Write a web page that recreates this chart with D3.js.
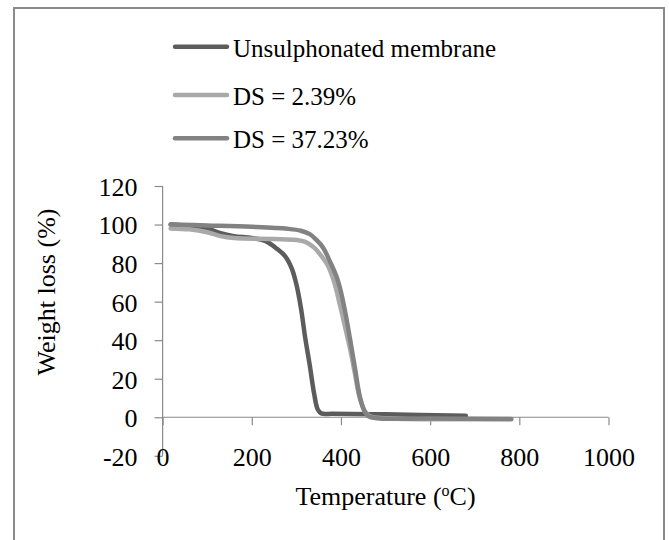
<!DOCTYPE html>
<html><head><meta charset="utf-8">
<script src="https://cdn.jsdelivr.net/npm/d3@7"></script>
<style>body{margin:0;background:#fff}svg{display:block}text{font-family:"Liberation Serif","Times New Roman",serif;fill:#000}</style>
</head><body><svg id="c" width="669" height="540"></svg>
<script>
const seriesNames = ["Unsulphonated membrane", "DS = 2.39%", "DS = 37.23%"];
const unsulphT = [18, 60, 100, 130, 160, 200, 230, 256, 275, 290, 300, 310, 320, 330, 340, 348, 356, 380, 500, 680];
const unsulphW = [100, 99.3, 98, 95.5, 94, 93, 91.5, 87.5, 83.5, 77, 69, 57, 41, 27, 12, 4, 2, 1.8, 1.5, 0.8];
const ds239T = [18, 60, 100, 130, 160, 250, 300, 320, 340, 355, 370, 385, 398, 410, 420, 431, 442, 454, 465, 500, 782];
const ds239W = [98, 97.5, 96, 94, 93, 92.5, 92, 91, 88, 84, 79, 70, 58, 46, 36, 23, 10, 3, 0.5, -0.5, -1];
const ds3723T = [18, 100, 200, 280, 310, 330, 345, 360, 375, 390, 400, 410, 420, 431, 442, 452, 462, 480, 600, 782];
const ds3723W = [100, 99.5, 98.8, 97.8, 96.8, 95, 92, 88, 81, 73, 65, 54, 41, 26, 11, 3.5, 0.5, -0.5, -0.7, -0.9];
const xTicks = [0, 200, 400, 600, 800, 1000];
const yTicks = [-20, 0, 20, 40, 60, 80, 100, 120];
const colors = ["#5c5c5c", "#a9a9a9", "#828282"];

const svg = d3.select("#c");
svg.append("rect").attr("x", 14).attr("y", 8).attr("width", 650).attr("height", 545)
  .attr("fill", "#fff").attr("stroke", "#8a8a8a").attr("stroke-width", 2);

const x = d3.scaleLinear().domain([0, 1000]).range([162.6, 608.5]);
const y = d3.scaleLinear().domain([-20, 120]).range([455.8, 186]);

const ya = svg.append("g").attr("transform", `translate(${x(0)},0)`)
  .call(d3.axisLeft(y).tickValues(yTicks).tickSize(8).tickPadding(17).tickFormat(d => String(d)));
const xa = svg.append("g").attr("transform", `translate(0,${y(0)})`)
  .call(d3.axisBottom(x).tickValues(xTicks).tickSize(8).tickPadding(22).tickFormat(d => String(d)));
[ya, xa].forEach(g => {
  g.select(".domain").attr("stroke", "#8a8a8a").attr("stroke-width", 1.2);
  g.selectAll(".tick line").attr("stroke", "#8a8a8a").attr("stroke-width", 1.2);
  g.selectAll(".tick text").attr("font-size", 26).attr("font-family", "Liberation Serif").attr("fill", "#000");
});
ya.select(".domain").attr("d", `M0,${y(120)}V${y(-20)}`);
ya.selectAll(".tick text").attr("dy", "0.36em");
xa.select(".domain").attr("d", `M${x(0)},0H${x(1000)}`);
xa.selectAll(".tick text").attr("dy", "0.71em");

const data = [
  unsulphT.map((t, i) => [t, unsulphW[i]]),
  ds239T.map((t, i) => [t, ds239W[i]]),
  ds3723T.map((t, i) => [t, ds3723W[i]])
];
const line = d3.line().x(d => x(d[0])).y(d => y(d[1])).curve(d3.curveCatmullRom.alpha(0.5));
data.forEach((d, i) => {
  svg.append("path").attr("d", line(d)).attr("fill", "none")
    .attr("stroke", colors[i]).attr("stroke-width", 4.5)
    .attr("stroke-linecap", "round").attr("stroke-linejoin", "round");
});

const legY = [46.7, 95, 138.3];
seriesNames.forEach((n, i) => {
  svg.append("line").attr("x1", 175).attr("x2", 227).attr("y1", legY[i]).attr("y2", legY[i])
    .attr("stroke", colors[i]).attr("stroke-width", 4.5).attr("stroke-linecap", "round");
  svg.append("text").attr("x", 233).attr("y", legY[i] + 10).attr("font-size", 25).text(n);
});

svg.append("text").attr("transform", "translate(55,292) rotate(-90)")
  .attr("text-anchor", "middle").attr("font-size", 26).text("Weight loss (%)");
const xt = svg.append("text").attr("x", 385.5).attr("y", 505).attr("text-anchor", "middle").attr("font-size", 26);
xt.append("tspan").text("Temperature (");
xt.append("tspan").attr("font-size", 16).attr("dy", -9).text("o");
xt.append("tspan").attr("dy", 9).text("C)");
</script></body></html>
